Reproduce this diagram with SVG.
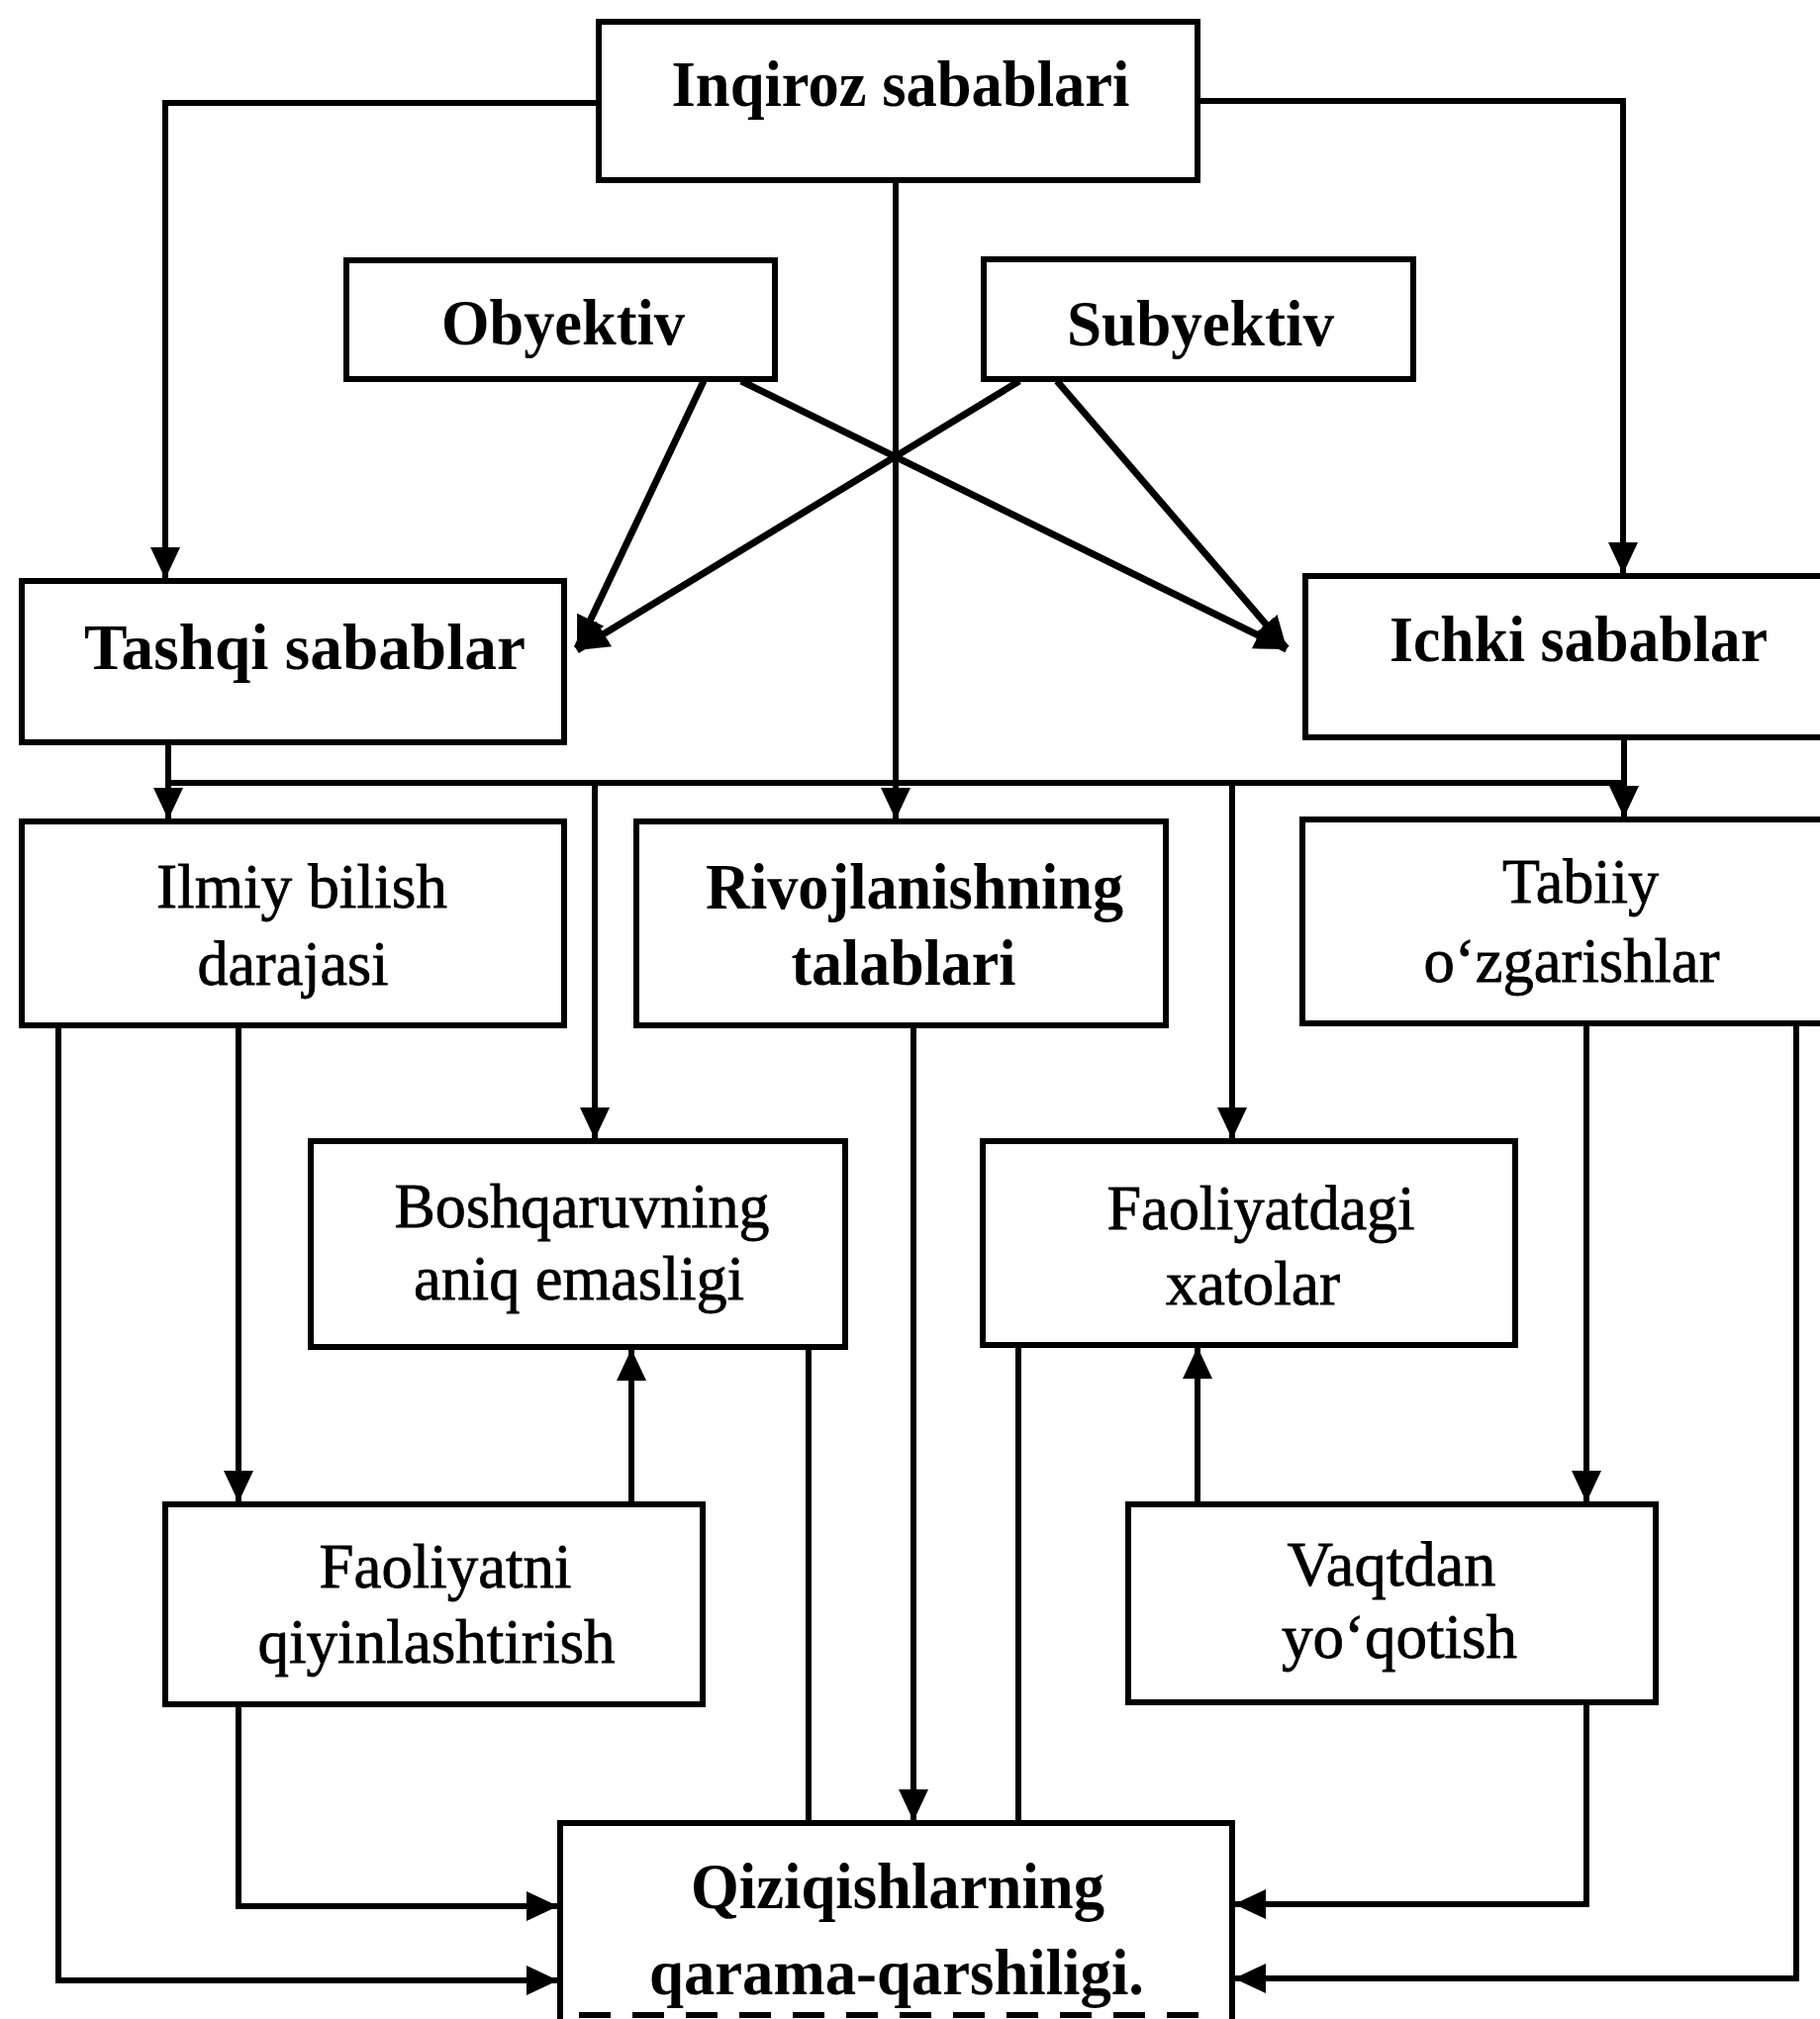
<svg xmlns="http://www.w3.org/2000/svg" width="1839" height="2040" viewBox="0 0 1839 2040">
<style>
.box{fill:#fff;stroke:#000;stroke-width:6}
.ln{fill:none;stroke:#000;stroke-width:6}
.dg{fill:none;stroke:#000;stroke-width:7}
.b{font-family:"Liberation Serif","Times New Roman",serif;font-weight:bold;font-size:66px;text-anchor:middle;fill:#000}
.r{font-family:"Liberation Serif","Times New Roman",serif;font-size:64px;text-anchor:middle;fill:#000;stroke:#000;stroke-width:0.8}
</style>
<defs>
<marker id="ah" viewBox="0 0 32 30" refX="32" refY="15" markerWidth="32" markerHeight="30" markerUnits="userSpaceOnUse" orient="auto">
<path d="M0,0 L32,15 L0,30 Z" fill="#000"/>
</marker>
</defs>
<rect width="1839" height="2040" fill="#fff"/>

<g id="connectors">
<polyline class="ln" points="605,104 167,104 167,585" marker-end="url(#ah)"/>
<polyline class="ln" points="1210,102 1640,102 1640,580" marker-end="url(#ah)"/>
<line class="ln" x1="905" y1="182" x2="905" y2="828" marker-end="url(#ah)"/>
<line class="dg" x1="711" y1="385" x2="583" y2="655" marker-end="url(#ah)"/>
<line class="dg" x1="749" y1="385" x2="1300" y2="656" marker-end="url(#ah)"/>
<line class="dg" x1="1030" y1="385" x2="583" y2="657" marker-end="url(#ah)"/>
<line class="dg" x1="1068" y1="385" x2="1300" y2="655" marker-end="url(#ah)"/>
<line class="ln" x1="170" y1="750" x2="170" y2="828" marker-end="url(#ah)"/>
<line class="ln" x1="1641" y1="745" x2="1641" y2="826" marker-end="url(#ah)"/>
<line class="ln" x1="170" y1="791" x2="1641" y2="791"/>
<line class="ln" x1="601" y1="791" x2="601" y2="1151" marker-end="url(#ah)"/>
<line class="ln" x1="1245" y1="791" x2="1245" y2="1151" marker-end="url(#ah)"/>
<line class="ln" x1="241" y1="1036" x2="241" y2="1518" marker-end="url(#ah)"/>
<polyline class="ln" points="59,1036 59,2001 564,2001" marker-end="url(#ah)"/>
<line class="ln" x1="638" y1="1520" x2="638" y2="1363" marker-end="url(#ah)"/>
<polyline class="ln" points="241,1722 241,1926 564,1926" marker-end="url(#ah)"/>
<line class="ln" x1="817" y1="1361" x2="817" y2="1842"/>
<line class="ln" x1="923" y1="1036" x2="923" y2="1840" marker-end="url(#ah)"/>
<line class="ln" x1="1029" y1="1359" x2="1029" y2="1842"/>
<line class="ln" x1="1210" y1="1520" x2="1210" y2="1361" marker-end="url(#ah)"/>
<line class="ln" x1="1603" y1="1034" x2="1603" y2="1518" marker-end="url(#ah)"/>
<polyline class="ln" points="1815,1034 1815,1999 1247,1999" marker-end="url(#ah)"/>
<polyline class="ln" points="1603,1720 1603,1924 1247,1924" marker-end="url(#ah)"/>
</g>

<g id="inqiroz">
<rect class="box" x="605" y="22" width="605" height="160"/>
<text class="b" x="910" y="107" textLength="463" lengthAdjust="spacingAndGlyphs">Inqiroz sabablari</text>
</g>
<g id="obyektiv">
<rect class="box" x="350" y="263" width="433" height="120"/>
<text class="b" x="569" y="348" textLength="246" lengthAdjust="spacingAndGlyphs">Obyektiv</text>
</g>
<g id="subyektiv">
<rect class="box" x="994" y="262" width="434" height="121"/>
<text class="b" x="1213" y="349" textLength="270" lengthAdjust="spacingAndGlyphs">Subyektiv</text>
</g>
<g id="tashqi">
<rect class="box" x="22" y="587" width="548" height="163"/>
<text class="b" x="308" y="676" textLength="446" lengthAdjust="spacingAndGlyphs">Tashqi sabablar</text>
</g>
<g id="ichki">
<rect class="box" x="1319" y="582" width="540" height="163"/>
<text class="b" x="1595" y="668" textLength="382" lengthAdjust="spacingAndGlyphs">Ichki sabablar</text>
</g>
<g id="ilmiy">
<rect class="box" x="22" y="830" width="548" height="206"/>
<text class="r" x="305" y="917" textLength="294" lengthAdjust="spacingAndGlyphs">Ilmiy bilish</text>
<text class="r" x="296" y="995" textLength="193" lengthAdjust="spacingAndGlyphs">darajasi</text>
</g>
<g id="rivojlanish">
<rect class="box" x="643" y="830" width="535" height="206"/>
<text class="b" x="924" y="918" textLength="422" lengthAdjust="spacingAndGlyphs">Rivojlanishning</text>
<text class="b" x="913" y="995" textLength="227" lengthAdjust="spacingAndGlyphs">talablari</text>
</g>
<g id="tabiiy">
<rect class="box" x="1316" y="828" width="543" height="206"/>
<text class="r" x="1597" y="912" textLength="158" lengthAdjust="spacingAndGlyphs">Tabiiy</text>
<text class="r" x="1588" y="992" textLength="299" lengthAdjust="spacingAndGlyphs">o‘zgarishlar</text>
</g>
<g id="boshqaruv">
<rect class="box" x="314" y="1153" width="540" height="208"/>
<text class="r" x="588" y="1240" textLength="379" lengthAdjust="spacingAndGlyphs">Boshqaruvning</text>
<text class="r" x="585" y="1313" textLength="334" lengthAdjust="spacingAndGlyphs">aniq emasligi</text>
</g>
<g id="faoliyatdagi">
<rect class="box" x="993" y="1153" width="538" height="206"/>
<text class="r" x="1274" y="1242" textLength="311" lengthAdjust="spacingAndGlyphs">Faoliyatdagi</text>
<text class="r" x="1266" y="1318" textLength="176" lengthAdjust="spacingAndGlyphs">xatolar</text>
</g>
<g id="faoliyatni">
<rect class="box" x="167" y="1520" width="543" height="202"/>
<text class="r" x="450" y="1604" textLength="255" lengthAdjust="spacingAndGlyphs">Faoliyatni</text>
<text class="r" x="441" y="1680" textLength="361" lengthAdjust="spacingAndGlyphs">qiyinlashtirish</text>
</g>
<g id="vaqtdan">
<rect class="box" x="1140" y="1520" width="533" height="200"/>
<text class="r" x="1406" y="1602" textLength="211" lengthAdjust="spacingAndGlyphs">Vaqtdan</text>
<text class="r" x="1414" y="1675" textLength="238" lengthAdjust="spacingAndGlyphs">yo‘qotish</text>
</g>
<g id="qiziqish">
<rect x="566" y="1842" width="679" height="196" fill="#fff"/>
<polyline class="ln" points="566,2040 566,1842 1245,1842 1245,2040"/>
<line x1="585" y1="2036" x2="1230" y2="2036" stroke="#000" stroke-width="6" stroke-dasharray="32 22"/>
<text class="b" x="907" y="1928" textLength="418" lengthAdjust="spacingAndGlyphs">Qiziqishlarning</text>
<text class="b" x="906" y="2015" textLength="500" lengthAdjust="spacingAndGlyphs">qarama-qarshiligi.</text>
</g>
</svg>
